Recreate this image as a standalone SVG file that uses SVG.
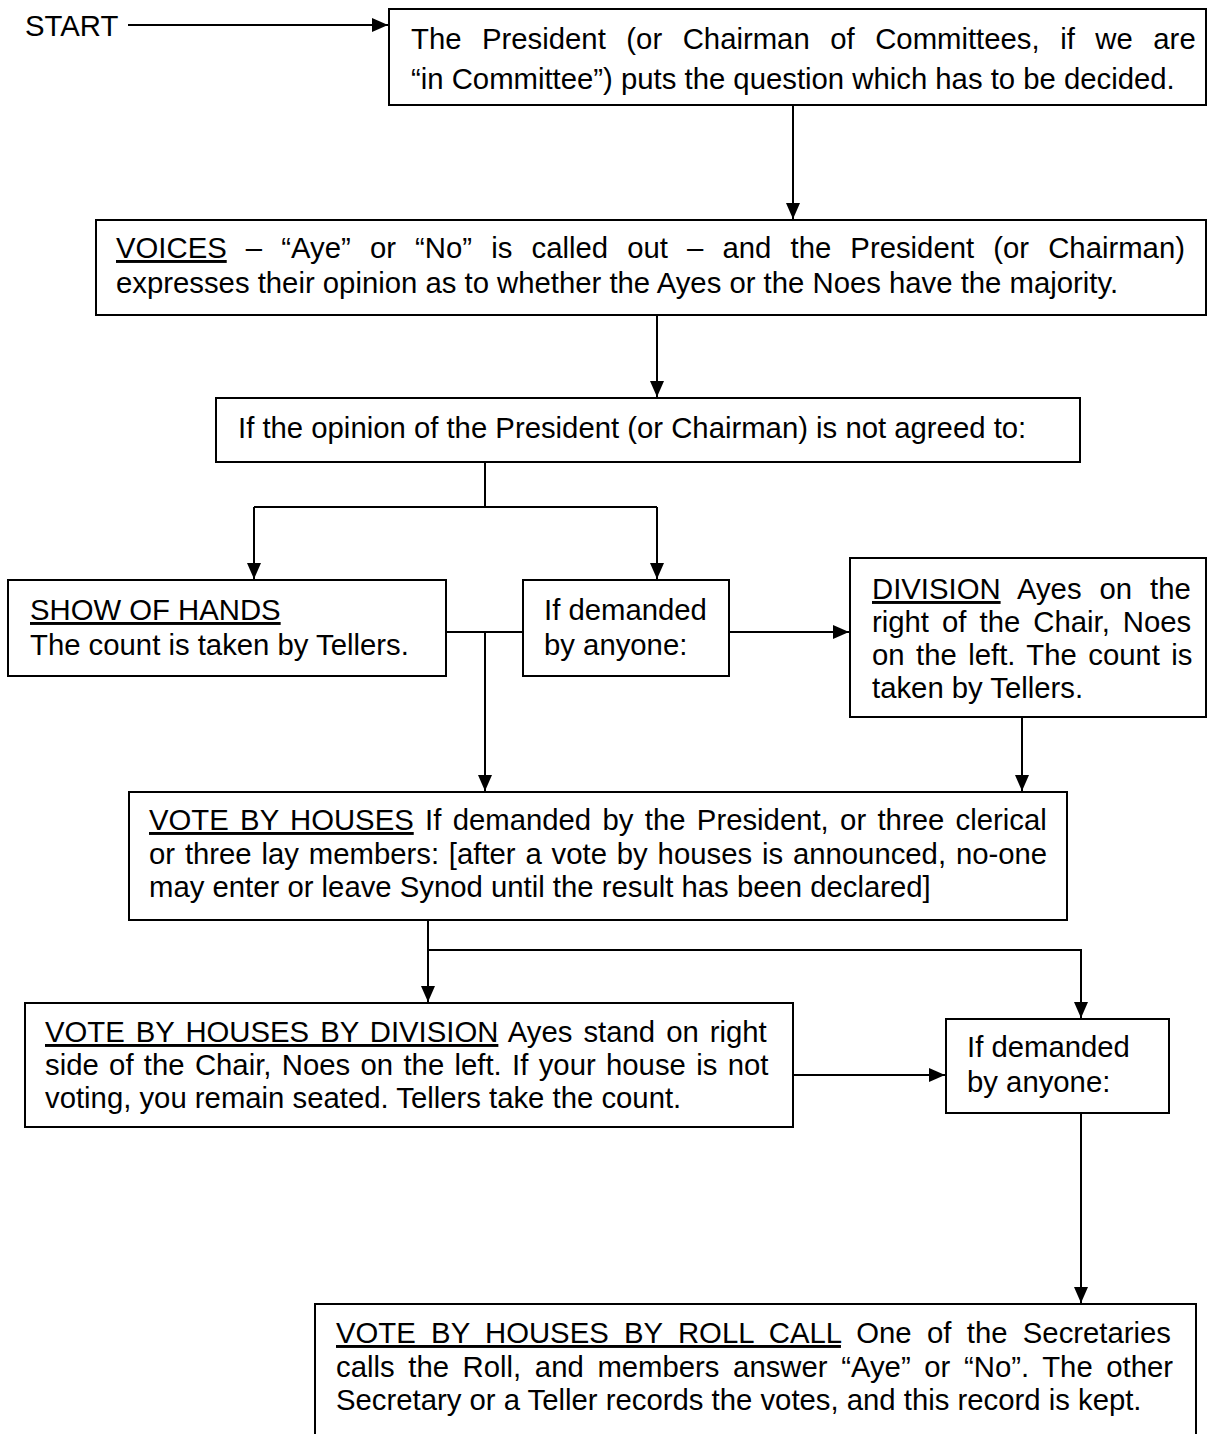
<svg xmlns="http://www.w3.org/2000/svg" width="1208" height="1434" viewBox="0 0 1208 1434">
<style>
text{font-family:"Liberation Sans",Arial,sans-serif;font-size:29.3px;fill:#000}
.box{fill:#fff;stroke:#000;stroke-width:2}
.ln{fill:none;stroke:#000;stroke-width:2}
.u{text-decoration:underline}
</style>
<defs>
<marker id="ah" markerUnits="userSpaceOnUse" markerWidth="18" markerHeight="16" refX="16" refY="7" orient="auto">
<path d="M0,0 L16,7 L0,14 z" fill="#000"/>
</marker>
</defs>
<rect width="1208" height="1434" fill="#fff"/>

<g id="connectors">
<path class="ln" d="M128,25 H388" marker-end="url(#ah)"/>
<path class="ln" d="M793,105 V219" marker-end="url(#ah)"/>
<path class="ln" d="M657,315 V397" marker-end="url(#ah)"/>
<path class="ln" d="M485,462 V507"/>
<path class="ln" d="M254,507 H657"/>
<path class="ln" d="M254,507 V579" marker-end="url(#ah)"/>
<path class="ln" d="M657,507 V579" marker-end="url(#ah)"/>
<path class="ln" d="M446,632 H523"/>
<path class="ln" d="M485,632 V791" marker-end="url(#ah)"/>
<path class="ln" d="M729,632 H849" marker-end="url(#ah)"/>
<path class="ln" d="M1022,717 V791" marker-end="url(#ah)"/>
<path class="ln" d="M428,920 V1002" marker-end="url(#ah)"/>
<path class="ln" d="M428,950 H1081 V1018" marker-end="url(#ah)"/>
<path class="ln" d="M793,1075 H945" marker-end="url(#ah)"/>
<path class="ln" d="M1081,1113 V1303" marker-end="url(#ah)"/>
</g>

<g id="start">
<text x="25" y="36">START</text>
</g>

<g id="n-question">
<rect class="box" x="389" y="9" width="817" height="96"/>
<text x="411" y="49" style="word-spacing:12.4px">The President (or Chairman of Committees, if we are</text>
<text x="411" y="89">“in Committee”) puts the question which has to be decided.</text>
</g>

<g id="n-voices">
<rect class="box" x="96" y="220" width="1110" height="95"/>
<text x="116" y="258" style="word-spacing:11px"><tspan class="u">VOICES</tspan> – “Aye” or “No” is called out – and the President (or Chairman)</text>
<text x="116" y="293">expresses their opinion as to whether the Ayes or the Noes have the majority.</text>
</g>

<g id="n-opinion">
<rect class="box" x="216" y="398" width="864" height="64"/>
<text x="238" y="438">If the opinion of the President (or Chairman) is not agreed to:</text>
</g>

<g id="n-hands">
<rect class="box" x="8" y="580" width="438" height="96"/>
<text x="30" y="620"><tspan class="u">SHOW OF HANDS</tspan></text>
<text x="30" y="655">The count is taken by Tellers.</text>
</g>

<g id="n-demand1">
<rect class="box" x="523" y="580" width="206" height="96"/>
<text x="544" y="620">If demanded</text>
<text x="544" y="655">by anyone:</text>
</g>

<g id="n-division">
<rect class="box" x="850" y="558" width="356" height="159"/>
<text x="872" y="599" style="word-spacing:9.8px"><tspan class="u">DIVISION</tspan> Ayes on the</text>
<text x="872" y="632" style="word-spacing:4.9px">right of the Chair, Noes</text>
<text x="872" y="665" style="word-spacing:3.3px">on the left. The count is</text>
<text x="872" y="698">taken by Tellers.</text>
</g>

<g id="n-houses">
<rect class="box" x="129" y="792" width="938" height="128"/>
<text x="149" y="830" style="word-spacing:3.2px"><tspan class="u">VOTE BY HOUSES</tspan> If demanded by the President, or three clerical</text>
<text x="149" y="863.5" style="word-spacing:1.7px">or three lay members: [after a vote by houses is announced, no-one</text>
<text x="149" y="897">may enter or leave Synod until the result has been declared]</text>
</g>

<g id="n-hdivision">
<rect class="box" x="25" y="1003" width="768" height="124"/>
<text x="45" y="1042" style="word-spacing:2.9px"><tspan class="u">VOTE BY HOUSES BY DIVISION</tspan> Ayes stand on right</text>
<text x="45" y="1075" style="word-spacing:2.2px">side of the Chair, Noes on the left. If your house is not</text>
<text x="45" y="1108">voting, you remain seated. Tellers take the count.</text>
</g>

<g id="n-demand2">
<rect class="box" x="946" y="1019" width="223" height="94"/>
<text x="967" y="1057">If demanded</text>
<text x="967" y="1092">by anyone:</text>
</g>

<g id="n-rollcall">
<rect class="box" x="315" y="1304" width="881" height="140"/>
<text x="336" y="1343" style="word-spacing:7.2px"><tspan class="u">VOTE BY HOUSES BY ROLL CALL</tspan> One of the Secretaries</text>
<text x="336" y="1377" style="word-spacing:5.5px">calls the Roll, and members answer “Aye” or “No”. The other</text>
<text x="336" y="1410">Secretary or a Teller records the votes, and this record is kept.</text>
</g>
</svg>
